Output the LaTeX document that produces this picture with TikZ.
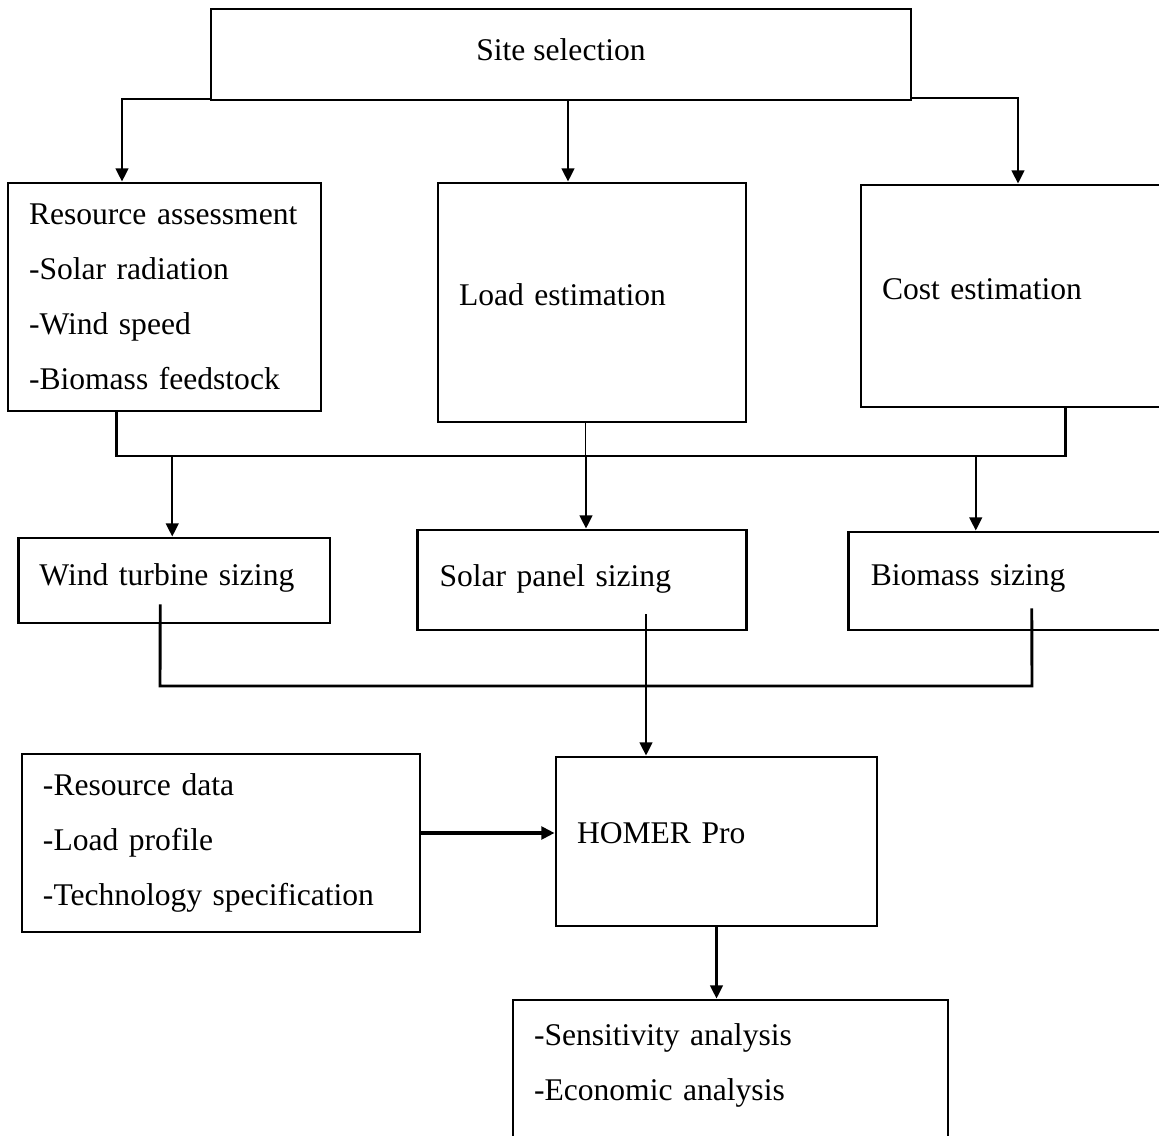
\documentclass[tikz,border=0pt]{standalone}
\usepackage{fontspec}
\setmainfont{Liberation Serif}
\usetikzlibrary{arrows.meta}
\newdimen\unitpx
\unitpx=0.38pt

\begin{document}
\begin{tikzpicture}[x=0.38pt,y=-0.38pt,
  box/.style={draw,line width=1.1pt,inner sep=0pt,align=left,font={\fontsize{12pt}{20.9pt}\selectfont}},
  link/.style={line width=0.8pt},
  bus/.style={line width=1.1pt},
  arr/.style={link,-{Triangle[length=5pt,width=4.8pt]}}]
  \useasboundingbox (0,0) rectangle (1159,1136);

  \node[box,minimum width=700\unitpx,minimum height=91\unitpx,text depth=9\unitpx] (site) at (561,54.5) {Site selection}; % top box
  \node[box,minimum width=313\unitpx,minimum height=228\unitpx,text width=271\unitpx] (res) at (164.5,297) {Resource assessment\\-Solar radiation\\-Wind speed\\-Biomass feedstock};
  \node[box,minimum width=308\unitpx,minimum height=239\unitpx,text width=266\unitpx,text depth=15\unitpx] (load) at (592,302.5) {Load estimation};
  \node[box,minimum width=304\unitpx,minimum height=222\unitpx,text width=262\unitpx,text depth=14\unitpx] (cost) at (1013,296) {Cost estimation};
  \node[box,minimum width=311.5\unitpx,minimum height=85\unitpx,text width=269.5\unitpx,text depth=12\unitpx] (wind) at (174.25,580.5) {Wind turbine sizing};
  \node[box,minimum width=329\unitpx,minimum height=100\unitpx,text width=285\unitpx,text depth=9\unitpx] (solar) at (582,580) {Solar panel sizing};
  \node[box,minimum width=316.5\unitpx,minimum height=98\unitpx,text width=272\unitpx,text depth=11\unitpx] (bio) at (1006.75,581) {Biomass sizing};
  \node[box,minimum width=398\unitpx,minimum height=178\unitpx,text width=356\unitpx] (input) at (221,843) {-Resource data\\-Load profile\\-Technology specification};
  \node[box,minimum width=321\unitpx,minimum height=169\unitpx,text width=279\unitpx,text depth=17\unitpx] (homer) at (716.5,841.5) {HOMER Pro};
  \node[box,minimum width=435\unitpx,minimum height=145\unitpx,text width=393\unitpx,text depth=76\unitpx] (result) at (730.5,1072.5) {-Sensitivity analysis\\-Economic analysis};

  % ends of the two collecting lines
  \coordinate (busA) at (116.5,456);
  \coordinate (busB) at (1065.5,456);
  \coordinate (busC) at (160,686);
  \coordinate (busD) at (1032,686);

  % site selection to the three studies
  \draw[arr] ([yshift=2\unitpx]site.south west) -| ([xshift=-42.5\unitpx]res.north);
  \draw[arr] ([xshift=7\unitpx]site.south) -- ([xshift=7\unitpx]site.south |- load.north);
  \draw[arr] ([yshift=3\unitpx]site.south east) -| ([xshift=5\unitpx]cost.north);

  % studies to the first line
  \draw[bus] ([xshift=-48\unitpx]res.south) -- (busA) -- (busB) -- ([xshift=52.5\unitpx]cost.south);
  \draw[line width=0.5pt] ([xshift=-6.5\unitpx]load.south) -- ([xshift=-6.5\unitpx]load.south |- busA);

  % first line to the sizing boxes
  \draw[arr] ([xshift=-2\unitpx]wind.north |- busA) -- ([xshift=-2\unitpx]wind.north);
  \draw[arr] ([xshift=4\unitpx]solar.north |- busA) -- ([xshift=4\unitpx]solar.north);
  \draw[arr] ([xshift=-31\unitpx]bio.north |- busA) -- ([xshift=-31\unitpx]bio.north);

  % sizing to HOMER
  \draw[bus] ([xshift=-14\unitpx,yshift=20\unitpx]wind.south) -- (busC) -- (busD) -- ([xshift=25\unitpx,yshift=23\unitpx]bio.south);
  \draw[arr] ([xshift=64\unitpx,yshift=17\unitpx]solar.south) -- ([xshift=64\unitpx]solar.south |- homer.north);
  \draw[arr,line width=1.2pt] ([yshift=10\unitpx]input.east) -- ([yshift=10\unitpx]input.east -| homer.west);
  \draw[arr] (homer.south) -- (homer.south |- result.north);
\end{tikzpicture}
\end{document}
